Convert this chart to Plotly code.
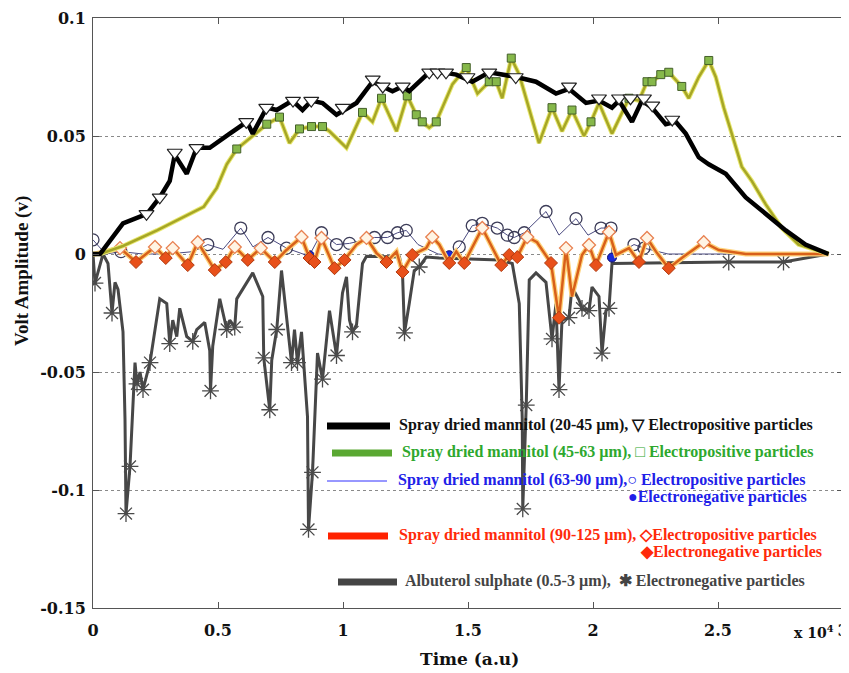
import plotly.graph_objects as go

# ---------------- data (time in units of 1e4 a.u., amplitude in V) ----------------
# Spray dried mannitol 20-45 um (black)
t_black = [0.0, 0.028, 0.12, 0.216, 0.267, 0.307, 0.327, 0.375, 0.415, 0.467, 0.547, 0.615, 0.639,
           0.695, 0.735, 0.798, 0.838, 0.874, 0.918, 0.974, 1.054, 1.118, 1.158, 1.198, 1.238, 1.265,
           1.345, 1.397, 1.453, 1.517, 1.585, 1.693, 1.772, 1.852, 1.904, 1.972, 2.024, 2.076, 2.104,
           2.156, 2.196, 2.236, 2.291, 2.331, 2.371, 2.423, 2.463, 2.531, 2.611, 2.691, 2.771, 2.850, 2.942]
v_black = [0.0, 0.0, 0.013, 0.017, 0.024, 0.031, 0.042, 0.034, 0.045, 0.045, 0.051, 0.056, 0.051,
           0.062, 0.061, 0.065, 0.061, 0.065, 0.064, 0.059, 0.064, 0.073, 0.071, 0.069, 0.071, 0.069,
           0.077, 0.077, 0.076, 0.073, 0.077, 0.075, 0.073, 0.068, 0.070, 0.064, 0.065, 0.062, 0.065,
           0.056, 0.065, 0.062, 0.055, 0.056, 0.051, 0.041, 0.038, 0.034, 0.024, 0.017, 0.010, 0.004, 0.0]
t_black_mk = [0.214, 0.267, 0.327, 0.414, 0.613, 0.693, 0.800, 0.873, 0.999, 1.119, 1.159, 1.239, 1.345,
              1.378, 1.412, 1.498, 1.585, 1.691, 1.904, 2.024, 2.104, 2.150, 2.204, 2.237, 2.317]
v_black_mk = [0.017, 0.024, 0.043, 0.045, 0.056, 0.062, 0.065, 0.065, 0.062, 0.074, 0.071, 0.071, 0.077,
              0.077, 0.077, 0.075, 0.077, 0.075, 0.071, 0.066, 0.066, 0.066, 0.066, 0.063, 0.057]

# Spray dried mannitol 45-63 um (green / olive)
t_green = [0.0, 0.028, 0.12, 0.256, 0.443, 0.495, 0.535, 0.575, 0.627, 0.695, 0.746, 0.786, 0.826, 0.874,
           0.918, 0.946, 1.014, 1.078, 1.118, 1.154, 1.214, 1.257, 1.293, 1.317, 1.345, 1.373, 1.438,
           1.493, 1.538, 1.585, 1.613, 1.637, 1.673, 1.705, 1.784, 1.836, 1.876, 1.916, 1.964, 1.992,
           2.024, 2.076, 2.144, 2.184, 2.216, 2.236, 2.271, 2.303, 2.355, 2.383, 2.423, 2.463, 2.491,
           2.523, 2.555, 2.595, 2.635, 2.691, 2.755, 2.822, 2.942]
v_green = [0.0, 0.0, 0.0034, 0.010, 0.020, 0.028, 0.038, 0.0445, 0.049, 0.055, 0.058, 0.047, 0.053, 0.054,
           0.054, 0.052, 0.045, 0.060, 0.056, 0.066, 0.052, 0.067, 0.059, 0.056, 0.0535, 0.056, 0.072,
           0.079, 0.068, 0.073, 0.073, 0.066, 0.083, 0.076, 0.047, 0.062, 0.052, 0.061, 0.050, 0.056,
           0.064, 0.051, 0.066, 0.065, 0.073, 0.073, 0.076, 0.077, 0.071, 0.066, 0.075, 0.082, 0.075,
           0.062, 0.051, 0.037, 0.031, 0.021, 0.011, 0.004, 0.0]
t_green_mk = [0.575, 0.695, 0.746, 0.826, 0.874, 0.918, 1.078, 1.154, 1.257, 1.293, 1.317, 1.373, 1.493,
              1.585, 1.613, 1.673, 1.836, 1.916, 1.992, 2.144, 2.216, 2.236, 2.271, 2.303, 2.355, 2.463]
v_green_mk = [0.0445, 0.055, 0.058, 0.053, 0.054, 0.054, 0.060, 0.066, 0.067, 0.059, 0.056, 0.056, 0.079,
              0.073, 0.073, 0.083, 0.062, 0.061, 0.056, 0.066, 0.073, 0.073, 0.076, 0.077, 0.071, 0.082]

# Spray dried mannitol 63-90 um (blue)
t_blue = [0.0, 0.05, 0.112, 0.20, 0.30, 0.40, 0.459, 0.52, 0.591, 0.64, 0.70, 0.774, 0.84, 0.866, 0.914,
          0.974, 1.026, 1.126, 1.178, 1.218, 1.253, 1.30, 1.38, 1.425, 1.465, 1.517, 1.557, 1.617, 1.657,
          1.685, 1.725, 1.812, 1.864, 1.932, 1.98, 2.032, 2.072, 2.076, 2.164, 2.204, 2.30, 2.942]
v_blue = [0.006, 0.0, 0.001, 0.0, 0.0, 0.001, 0.004, 0.002, 0.011, 0.003, 0.007, 0.0025, 0.0, -0.0005, 0.009,
          0.004, 0.0045, 0.007, 0.007, 0.009, 0.010, 0.004, 0.0, -0.0005, 0.003, 0.012, 0.013, 0.011, 0.008,
          0.007, 0.009, 0.018, 0.008, 0.015, 0.008, 0.011, 0.011, -0.0015, 0.004, 0.0025, 0.0, 0.0]
t_blue_pos = [0.0, 0.112, 0.459, 0.591, 0.70, 0.774, 0.914, 0.974, 1.026, 1.126, 1.178, 1.218, 1.253,
              1.465, 1.517, 1.557, 1.617, 1.657, 1.685, 1.725, 1.812, 1.932, 2.032, 2.072, 2.164, 2.204]
v_blue_pos = [0.006, 0.001, 0.004, 0.011, 0.007, 0.0025, 0.009, 0.004, 0.0045, 0.007, 0.007, 0.009, 0.010,
              0.003, 0.012, 0.013, 0.011, 0.008, 0.007, 0.009, 0.018, 0.015, 0.011, 0.011, 0.004, 0.0025]
t_blue_neg = [0.866, 1.425, 2.076]
v_blue_neg = [-0.0005, -0.0005, -0.0015]

# Spray dried mannitol 90-125 um (orange / red)
t_red = [0.0, 0.008, 0.108, 0.172, 0.248, 0.291, 0.319, 0.379, 0.419, 0.487, 0.531, 0.567, 0.619, 0.671,
         0.727, 0.774, 0.834, 0.866, 0.886, 0.914, 0.966, 1.006, 1.054, 1.094, 1.134, 1.174, 1.214, 1.238,
         1.277, 1.333, 1.357, 1.385, 1.425, 1.453, 1.485, 1.557, 1.633, 1.665, 1.697, 1.737, 1.776, 1.832,
         1.864, 1.892, 1.916, 1.956, 1.984, 2.012, 2.064, 2.092, 2.144, 2.184, 2.216, 2.252, 2.303, 2.355,
         2.443, 2.503, 2.611, 2.942]
v_red = [0.0, 0.0, 0.0025, -0.0034, 0.003, -0.0017, 0.0025, -0.0047, 0.005, -0.0068, -0.0034, 0.003, -0.0025,
         0.0025, -0.0034, 0.0017, 0.0072, -0.0017, -0.0034, 0.0068, -0.006, -0.0025, 0.004, 0.0068, 0.0004,
         -0.0034, 0.001, -0.0076, -0.0004, 0.0025, 0.0072, 0.004, -0.0038, 0.001, -0.0038, 0.011, -0.0047,
         -0.0004, -0.0013, 0.0072, 0.005, -0.0038, -0.027, 0.0025, -0.018, -0.0004, 0.0038, -0.0047, 0.0093,
         -0.0004, 0.0025, -0.0034, 0.0068, 0.001, -0.006, -0.0017, 0.005, 0.0017, 0.0, 0.0]
t_red_pos = [0.108, 0.248, 0.319, 0.419, 0.567, 0.671, 0.834, 0.914, 1.094, 1.357, 1.557, 1.737, 1.892,
             1.984, 2.064, 2.216, 2.443]
v_red_pos = [0.0025, 0.003, 0.0025, 0.005, 0.003, 0.0025, 0.0072, 0.0068, 0.0068, 0.0072, 0.011, 0.0072,
             0.0025, 0.0038, 0.0093, 0.0068, 0.005]
t_red_neg = [0.172, 0.291, 0.379, 0.487, 0.531, 0.619, 0.727, 0.866, 0.886, 0.966, 1.006, 1.174, 1.238,
             1.277, 1.425, 1.485, 1.633, 1.665, 1.697, 1.832, 1.864, 2.012, 2.184, 2.303]
v_red_neg = [-0.0034, -0.0017, -0.0047, -0.0068, -0.0034, -0.0025, -0.0034, -0.0017, -0.0034, -0.006,
             -0.0025, -0.0034, -0.0076, -0.0004, -0.0038, -0.0038, -0.0047, -0.0004, -0.0013, -0.0038,
             -0.027, -0.0047, -0.0034, -0.006]

# Albuterol sulphate 0.5-3 um (dark grey)
t_grey = [0.0, 0.008, 0.04, 0.06, 0.076, 0.088, 0.10, 0.12, 0.128, 0.132, 0.148, 0.168, 0.176, 0.188, 0.20,
          0.228, 0.267, 0.295, 0.307, 0.319, 0.335, 0.347, 0.375, 0.399, 0.415, 0.447, 0.467, 0.47, 0.479,
          0.507, 0.535, 0.547, 0.567, 0.575, 0.639, 0.679, 0.683, 0.707, 0.715, 0.735, 0.754, 0.778, 0.794,
          0.806, 0.818, 0.834, 0.858, 0.862, 0.878, 0.898, 0.918, 0.946, 0.974, 0.998, 1.014, 1.026, 1.038,
          1.054, 1.078, 1.094, 1.226, 1.238, 1.246, 1.265, 1.285, 1.305, 1.333, 1.385, 1.625, 1.677, 1.705,
          1.717, 1.719, 1.733, 1.745, 1.772, 1.812, 1.836, 1.852, 1.864, 1.876, 1.904, 1.916, 1.944, 1.956,
          1.984, 1.996, 2.024, 2.036, 2.052, 2.064, 2.076, 2.423, 2.543, 2.762, 2.942]
v_grey = [0.0, -0.0123, 0.0, -0.004, -0.025, -0.012, -0.015, -0.033, -0.070, -0.110, -0.090, -0.046, -0.055,
          -0.050, -0.0575, -0.046, -0.019, -0.021, -0.038, -0.028, -0.035, -0.023, -0.035, -0.037, -0.032,
          -0.029, -0.041, -0.058, -0.039, -0.019, -0.032, -0.028, -0.031, -0.019, -0.008, -0.018, -0.044,
          -0.066, -0.045, -0.032, -0.007, -0.032, -0.046, -0.032, -0.046, -0.033, -0.069, -0.1167, -0.0925,
          -0.042, -0.053, -0.024, -0.043, -0.0165, -0.0097, -0.028, -0.033, -0.030, -0.004, -0.001, -0.0013,
          -0.008, -0.0334, -0.021, -0.007, -0.0055, -0.0013, -0.0017, -0.0025, -0.004, -0.021, -0.070, -0.108,
          -0.064, -0.011, -0.008, -0.012, -0.036, -0.021, -0.0575, -0.028, -0.027, -0.014, -0.0195, -0.023,
          -0.024, -0.014, -0.018, -0.042, -0.024, -0.023, -0.004, -0.0034, -0.0034, -0.0034, 0.0]
t_grey_mk = [0.008, 0.076, 0.132, 0.148, 0.176, 0.20, 0.228, 0.307, 0.399, 0.47, 0.535, 0.567, 0.683, 0.707,
             0.735, 0.794, 0.818, 0.862, 0.878, 0.918, 0.974, 1.038, 1.246, 1.305, 1.719, 1.733, 1.836, 1.864,
             1.904, 1.956, 1.984, 2.036, 2.064, 2.543, 2.762]
v_grey_mk = [-0.0123, -0.025, -0.110, -0.090, -0.055, -0.0575, -0.046, -0.038, -0.037, -0.058, -0.032,
             -0.031, -0.044, -0.066, -0.032, -0.046, -0.046, -0.1167, -0.0925, -0.053, -0.043, -0.033,
             -0.0334, -0.0055, -0.108, -0.064, -0.036, -0.0575, -0.027, -0.023, -0.024, -0.042, -0.023,
             -0.0034, -0.0034]

x_ticks = [0, 0.5, 1, 1.5, 2, 2.5, 3]
x_ticktext = ["0", "0.5", "1", "1.5", "2", "2.5", "3"]
y_ticks = [-0.15, -0.1, -0.05, 0, 0.05, 0.1]
y_ticktext = ["-0.15", "-0.1", "-0.05", "0", "0.05", "0.1"]

legend_rows = [
    ("Spray dried mannitol (20-45 \u00b5m), \u25bd Electropositive particles", "#111111", "#000000", 7),
    ("Spray dried mannitol (45-63 \u00b5m), \u25a1 Electropositive particles", "#2ea82e", "#5aa832", 7),
    ("Spray dried mannitol (63-90 \u00b5m),\u25cb Electropositive particles", "#2020e8", "#3030ff", 1),
    ("Spray dried mannitol (90-125 \u00b5m), \u25c7Electropositive particles", "#ff2a0a", "#ff2200", 7),
    ("Albuterol sulphate (0.5-3 \u00b5m),  \u2731 Electronegative particles", "#444444", "#444444", 7),
]
legend_extra = [
    ("\u25cfElectronegative particles", "#2020e8"),
    ("\u25c6Electronegative particles", "#ff2a0a"),
]

# ---------------- figure ----------------
FONT = "Liberation Serif"
TICKFONT = "DejaVu Serif"
# target plot box in the screenshot (page pixels); the page body adds an 8px offset
L, R, T, B = 93, 843, 18, 608
OFF = 8
W, H = 849, 673

def pxx(x):
    return (x - L) / (R - L)

def pxy(y):
    return (B - y) / (B - T)

fig = go.Figure()

# albuterol (grey)
fig.add_trace(go.Scatter(x=t_grey, y=v_grey, mode="lines", line=dict(color="#474747", width=3)))
fig.add_trace(go.Scatter(x=t_grey_mk, y=v_grey_mk, mode="markers",
                         marker=dict(symbol="asterisk-open", size=14, color="#4a4a4a",
                                     line=dict(color="#4a4a4a", width=1.3))))
# blue
fig.add_trace(go.Scatter(x=t_blue, y=v_blue, mode="lines", line=dict(color="#4a4a80", width=1)))
fig.add_trace(go.Scatter(x=t_blue_pos, y=v_blue_pos, mode="markers",
                         marker=dict(symbol="circle-open", size=12, color="#3c3c58",
                                     line=dict(color="#3c3c58", width=1.3))))
fig.add_trace(go.Scatter(x=t_blue_neg, y=v_blue_neg, mode="markers",
                         marker=dict(symbol="circle", size=9, color="#1a2ad8", line=dict(color="#10106a", width=1))))
# orange
fig.add_trace(go.Scatter(x=t_red, y=v_red, mode="lines", line=dict(color="#ffd27a", width=5)))
fig.add_trace(go.Scatter(x=t_red, y=v_red, mode="lines", line=dict(color="#d8601a", width=2.5)))
fig.add_trace(go.Scatter(x=t_red_pos, y=v_red_pos, mode="markers",
                         marker=dict(symbol="diamond", size=10, color="#fff4e4", line=dict(color="#e88050", width=1.3))))
fig.add_trace(go.Scatter(x=t_red_neg, y=v_red_neg, mode="markers",
                         marker=dict(symbol="diamond", size=10, color="#e8501a", line=dict(color="#b03a10", width=1))))
# green
fig.add_trace(go.Scatter(x=t_green, y=v_green, mode="lines", line=dict(color="#e8e870", width=4.5)))
fig.add_trace(go.Scatter(x=t_green, y=v_green, mode="lines", line=dict(color="#a6a626", width=2.5)))
fig.add_trace(go.Scatter(x=t_green_mk, y=v_green_mk, mode="markers",
                         marker=dict(symbol="square", size=8, color="#86b84a", line=dict(color="#44602a", width=1))))
# black
fig.add_trace(go.Scatter(x=t_black, y=v_black, mode="lines", line=dict(color="#000000", width=4.5)))
fig.add_trace(go.Scatter(x=t_black_mk, y=v_black_mk, mode="markers",
                         marker=dict(symbol="triangle-down", size=13, color="#ffffff", line=dict(color="#222222", width=1.2))))

# custom legend
row_y = [426, 453, 481, 536, 582]
line_x = [(327, 390), (332, 392), (327, 387), (328, 388), (338, 397)]
text_x = [397, 400, 396, 397, 403]
shapes = []
annotations = []
for (txt, tcol, lcol, lw), yy, (x0, x1), tx in zip(legend_rows, row_y, line_x, text_x):
    shapes.append(dict(type="line", xref="paper", yref="paper", x0=pxx(x0), x1=pxx(x1),
                       y0=pxy(yy), y1=pxy(yy), line=dict(color=lcol, width=lw)))
    annotations.append(dict(text="<b>" + txt + "</b>", xref="paper", yref="paper", x=pxx(tx), y=pxy(yy - 1),
                            xanchor="left", yanchor="middle", showarrow=False,
                            font=dict(family=FONT, size=16, color=tcol)))
for (txt, tcol), yy, tx in zip(legend_extra, [497, 552], [626, 638]):
    annotations.append(dict(text="<b>" + txt + "</b>", xref="paper", yref="paper", x=pxx(tx), y=pxy(yy),
                            xanchor="left", yanchor="middle", showarrow=False,
                            font=dict(family=FONT, size=16, color=tcol)))
# exponent label, axis titles
annotations.append(dict(text="<b>x 10<sup>4</sup></b>", xref="paper", yref="paper", x=pxx(836), y=pxy(632),
                        xanchor="right", yanchor="middle", showarrow=False,
                        font=dict(family=TICKFONT, size=14, color="#111111")))
annotations.append(dict(text="<b>Time (a.u)</b>", xref="paper", yref="paper", x=pxx(469), y=pxy(659),
                        xanchor="center", yanchor="middle", showarrow=False,
                        font=dict(family=TICKFONT, size=17, color="#111111")))
annotations.append(dict(text="<b>Volt Amplitude (v)</b>", xref="paper", yref="paper", x=pxx(22), y=pxy(271),
                        xanchor="center", yanchor="middle", showarrow=False, textangle=-90,
                        font=dict(family=FONT, size=19, color="#111111")))

fig.update_layout(
    width=W, height=H,
    margin=dict(l=L - OFF, r=W - (R - OFF), t=T - OFF, b=H - (B - OFF), autoexpand=False),
    paper_bgcolor="white", plot_bgcolor="white",
    showlegend=False,
    shapes=shapes, annotations=annotations,
    font=dict(family=FONT, color="#111111"),
    xaxis=dict(range=[0, 3], tickvals=x_ticks, ticktext=["<b>%s</b>" % s for s in x_ticktext],
               tickfont=dict(family=TICKFONT, size=16, color="#111111"), automargin=False,
               ticks="inside", ticklen=6, tickcolor="#555555", showline=True, linecolor="#555555",
               linewidth=1, mirror="ticks", showgrid=False, zeroline=False, ticklabelstandoff=8),
    yaxis=dict(range=[-0.15, 0.1], tickvals=y_ticks, ticktext=["<b>%s</b>" % s for s in y_ticktext],
               tickfont=dict(family=TICKFONT, size=16, color="#111111"), automargin=False,
               ticks="inside", ticklen=6, tickcolor="#555555", showline=True, linecolor="#555555",
               linewidth=1, mirror="ticks", showgrid=True, gridcolor="#8a8a8a", griddash="dot",
               gridwidth=1, zeroline=False, ticklabelstandoff=3),
)

fig.write_html("out.html")
